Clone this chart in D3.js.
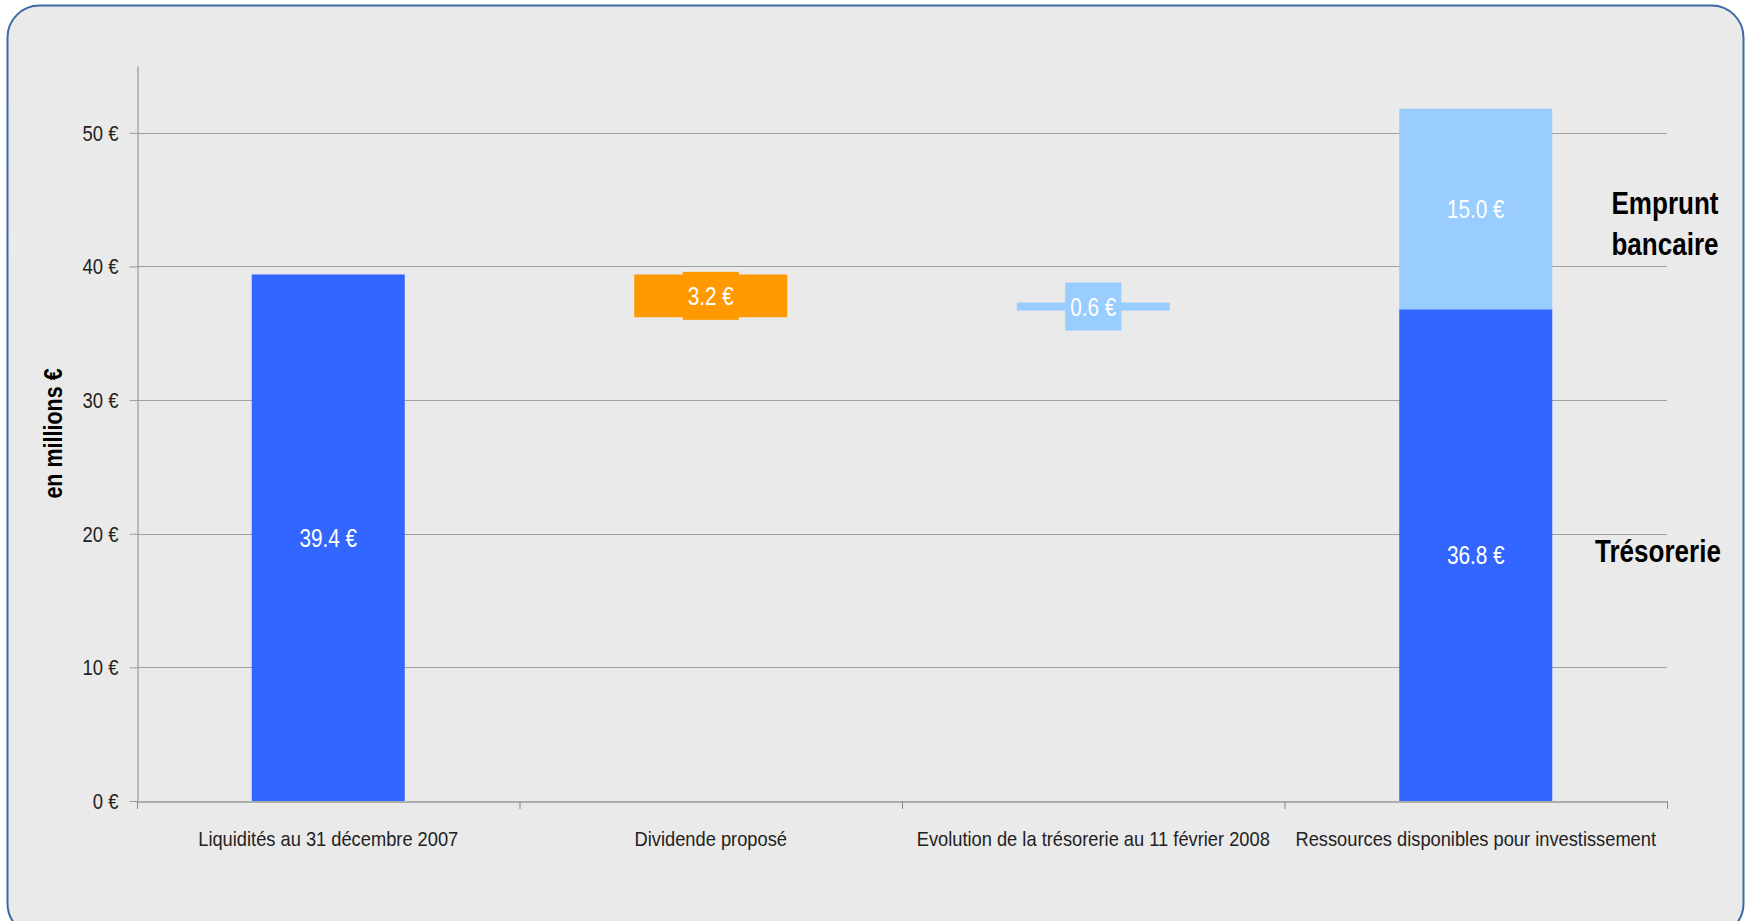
<!DOCTYPE html>
<html><head><meta charset="utf-8">
<script src="https://cdn.jsdelivr.net/npm/d3@7/dist/d3.min.js"></script>
<style>
html,body{margin:0;padding:0;background:#fff;}
svg{display:block;}
text{font-family:"Liberation Sans Narrow","Arial Narrow","Liberation Sans",Arial,sans-serif;}
</style></head>
<body><svg id="c" width="1748" height="921"></svg>
<script>
// ---- data ----
const categories = ["Liquidités au 31 décembre 2007", "Dividende proposé", "Evolution de la trésorerie au 11 février 2008", "Ressources disponibles pour investissement"];
const baseValues = [0, 36.2, 36.7, 0];          // invisible waterfall base
const tresorerie = [39.4, null, null, 36.8];
const dividende  = [null, 3.2, null, null];
const evolution  = [null, null, 0.6, null];
const emprunt    = [null, null, null, 15.0];
const yTicks = [0, 10, 20, 30, 40, 50];
const yMax = 55;
const sideLabels = [["Emprunt","bancaire"], ["Trésorerie"]];

// ---- helpers ----
function condense(sel, f){
  sel.each(function(){
    const L = this.getComputedTextLength();
    d3.select(this).attr("textLength", L*f).attr("lengthAdjust","spacingAndGlyphs");
  });
}

// ---- layout ----
const svg = d3.select("#c");
const pLeft = 137, pRight = 1667, pTop = 66, pBottom = 801;

svg.append("rect").attr("x",7.5).attr("y",5.5).attr("width",1736).attr("height",930)
  .attr("rx",32).attr("ry",32).attr("fill","#EAEAEA").attr("stroke","#3B6AA6").attr("stroke-width",2);

const x = d3.scaleBand().domain(categories).range([pLeft,pRight]).padding(0);
const y = d3.scaleLinear().domain([0,yMax]).range([pBottom,pTop]);
const bw = x.bandwidth()*0.4;
const bx = c => x(c) + (x.bandwidth()-bw)/2;

// gridlines
svg.append("g").selectAll("line").data(yTicks.filter(d=>d>0)).join("line")
  .attr("x1",pLeft).attr("x2",pRight).attr("y1",d=>Math.round(y(d))+0.5).attr("y2",d=>Math.round(y(d))+0.5)
  .attr("stroke","#A0A0A0").attr("stroke-width",1);

// y axis
const yAxis = svg.append("g").attr("transform",`translate(${pLeft+0.5},0)`)
  .call(d3.axisLeft(y).tickValues(yTicks).tickFormat(d=>d+" €").tickSize(8).tickSizeOuter(0));
yAxis.select(".domain").attr("stroke","#888");
yAxis.selectAll(".tick line").attr("stroke","#999");
yAxis.selectAll(".tick text").attr("font-size",22).attr("fill","#222").attr("x",-19).attr("dy","0.34em")
  .style("font-family",'"Liberation Sans Narrow","Arial Narrow","Liberation Sans",sans-serif')
  .call(condense, 0.84);

// build segments
const segs = [];
categories.forEach((c,i)=>{
  if (tresorerie[i]!=null) segs.push({c, y0:baseValues[i], y1:baseValues[i]+tresorerie[i], v:tresorerie[i], color:"#3366FF"});
  if (dividende[i]!=null) segs.push({c, y0:baseValues[i], y1:baseValues[i]+dividende[i], v:dividende[i], color:"#FF9900"});
  if (evolution[i]!=null) segs.push({c, y0:baseValues[i], y1:baseValues[i]+evolution[i], v:evolution[i], color:"#99CCFF"});
  if (emprunt[i]!=null) { const b = baseValues[i]+(tresorerie[i]||0); segs.push({c, y0:b, y1:b+emprunt[i], v:emprunt[i], color:"#99CCFF"}); }
});

svg.append("g").selectAll("rect").data(segs).join("rect")
  .attr("x",d=>bx(d.c)).attr("width",bw)
  .attr("y",d=>y(d.y1)).attr("height",d=>y(d.y0)-y(d.y1))
  .attr("fill",d=>d.color);

// x axis
const xAxis = svg.append("g").attr("transform",`translate(0,${pBottom+0.5})`)
  .call(d3.axisBottom(x).tickSize(0).tickSizeOuter(0));
xAxis.select(".domain").attr("stroke","#999").attr("stroke-width",1.5);
xAxis.selectAll(".tick text").attr("font-size",21).attr("fill","#222").attr("dy",0).attr("y",44)
  .style("font-family",'"Liberation Sans Narrow","Arial Narrow","Liberation Sans",sans-serif')
  .call(condense, 0.87);
const bounds = categories.map(c=>x(c)).concat([pRight]);
svg.append("g").selectAll("line").data(bounds).join("line")
  .attr("x1",d=>d+0.5).attr("x2",d=>d+0.5).attr("y1",pBottom).attr("y2",pBottom+8).attr("stroke","#888");

// value labels with background boxes
const lab = svg.append("g").selectAll("g").data(segs).join("g")
  .attr("transform",d=>`translate(${bx(d.c)+bw/2},${(y(d.y0)+y(d.y1))/2})`);
lab.append("rect").attr("fill",d=>d.color).attr("y",-24).attr("height",48);
lab.append("text").text(d=>d.v.toFixed(1)+" €").attr("text-anchor","middle").attr("dy","0.36em")
  .attr("font-size",25).attr("fill","#fff");
lab.each(function(){
  const g=d3.select(this); const t=g.select("text");
  const L=t.node().getComputedTextLength()*0.83;
  t.attr("textLength",L).attr("lengthAdjust","spacingAndGlyphs");
  const w=L+10;
  g.select("rect").attr("x",-w/2).attr("width",w);
});

// side labels
const side = svg.append("g").attr("font-size",31).attr("font-weight","bold").attr("fill","#000").attr("text-anchor","middle");
side.append("text").attr("x",1665).attr("y",214).text(sideLabels[0][0]);
side.append("text").attr("x",1665).attr("y",255).text(sideLabels[0][1]);
side.append("text").attr("x",1658).attr("y",562).text(sideLabels[1][0]);
side.selectAll("text").call(condense, 0.84);

// y axis title
svg.append("text").attr("transform",`translate(62,${(pTop+pBottom)/2}) rotate(-90)`).attr("text-anchor","middle")
  .attr("font-size",25).attr("font-weight","bold").attr("fill","#000").text("en millions €")
  .call(condense, 0.86);
</script></body></html>
